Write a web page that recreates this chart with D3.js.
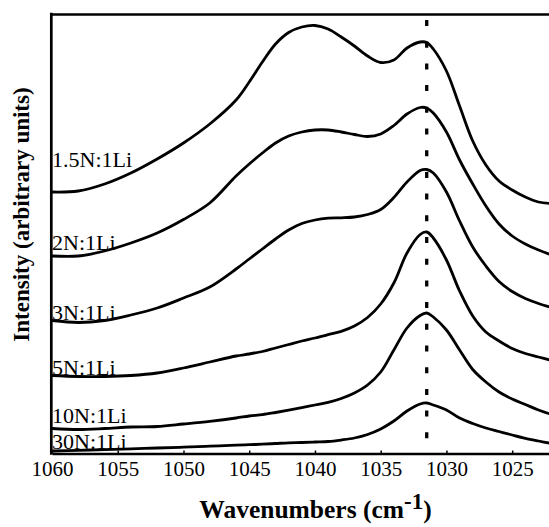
<!DOCTYPE html>
<html>
<head>
<meta charset="utf-8">
<script src="https://cdn.jsdelivr.net/npm/d3@7"></script>
<style>
  body { margin: 0; background: #fff; }
  svg { display: block; }
</style>
</head>
<body>
<svg width="549" height="527"></svg>
<script>
// wavenumber grid (cm-1) shared by all spectra
var wavenumbers = [1060, 1058, 1056, 1054, 1052, 1050, 1048, 1046, 1045, 1044, 1043, 1042, 1041, 1040,
    1039, 1038, 1037, 1036, 1035, 1034, 1033, 1032, 1031.5, 1031, 1030, 1029, 1028, 1027, 1026,
    1025, 1024, 1023, 1022];

// intensities (arbitrary units, already offset as stacked in the figure)
var ratio15 = [26.1, 26.2, 26.9, 28.0, 29.4, 31.0, 32.9, 35.3, 37.1, 39.1, 40.9, 42.05, 42.6, 42.75,
    42.4, 41.6, 40.7, 39.7, 39.05, 39.3, 40.5, 41.1, 41.05, 40.4, 38.2, 34.7, 31.2, 28.8, 27.2,
    26.3, 25.6, 25.1, 24.95];
var ratio2 = [19.7, 19.7, 20.2, 21.0, 22.0, 23.35, 25.0, 27.7, 28.9, 30.0, 31.0, 31.7, 32.1, 32.3,
    32.3, 32.1, 31.85, 31.65, 31.9, 32.75, 33.9, 34.55, 34.5, 34.0, 32.1, 29.3, 26.9, 24.7, 22.9,
    21.7, 20.9, 20.3, 19.8];
var ratio3 = [13.25, 13.05, 13.25, 13.8, 14.5, 15.5, 16.6, 18.4, 19.4, 20.4, 21.4, 22.3, 22.95, 23.3,
    23.48, 23.52, 23.6, 23.85, 24.35, 25.55, 27.1, 28.25, 28.35, 28.0, 26.1, 23.2, 20.6, 18.7, 17.15,
    16.15, 15.45, 14.95, 14.55];
var ratio5 = [7.75, 7.65, 7.65, 7.75, 8.0, 8.5, 9.1, 9.7, 9.9, 10.15, 10.5, 10.85, 11.2, 11.5,
    11.83, 12.17, 12.7, 13.55, 14.9, 17.0, 20.0, 21.85, 22.1, 21.5, 19.3, 16.2, 13.7, 12.1, 11.2,
    10.45, 9.95, 9.6, 9.25];
var ratio10 = [2.45, 2.35, 2.45, 2.6, 2.65, 2.9, 3.17, 3.5, 3.7, 3.84, 4.05, 4.28, 4.53, 4.8,
    5.06, 5.45, 6.0, 6.8, 8.1, 10.3, 12.5, 13.75, 14.0, 13.6, 12.3, 10.3, 8.35, 7.1, 6.1,
    5.4, 4.85, 4.3, 3.85];
var ratio30 = [0.2, 0.27, 0.34, 0.42, 0.5, 0.58, 0.68, 0.78, 0.83, 0.88, 0.95, 1.02, 1.05, 1.1,
    1.15, 1.3, 1.5, 1.85, 2.4, 3.2, 4.2, 4.9, 5.0, 4.8, 4.3, 3.5, 2.95, 2.5, 2.15,
    1.8, 1.47, 1.2, 0.95];

var seriesNames = ['1.5N:1Li', '2N:1Li', '3N:1Li', '5N:1Li', '10N:1Li', '30N:1Li'];
var seriesValues = [ratio15, ratio2, ratio3, ratio5, ratio10, ratio30];
// label baseline intensity, read where each name sits on the left edge
var labelLevels = [28.65, 20.3, 13.3, 7.8, 3.0, 0.4];

var tickValues = [1060, 1055, 1050, 1045, 1040, 1035, 1030, 1025];
var markerWavenumber = 1031.5;

// note: "top" is taken by window.top, so plot edges get their own names
var plotLeft = 52, plotRight = 549, plotTop = 14, plotBottom = 453;
var serif = '"Liberation Serif", "Times New Roman", serif';

var svg = d3.select('svg');

var x = d3.scaleLinear().domain([1060, 1022.2]).range([plotLeft, plotRight]);
var y = d3.scaleLinear().domain([0, 43.9]).range([plotBottom, plotTop]);

svg.append('clipPath').attr('id', 'plot')
    .append('rect')
    .attr('x', plotLeft).attr('y', plotTop)
    .attr('width', plotRight - plotLeft).attr('height', plotBottom - plotTop);

// dashed marker line
svg.append('line')
    .attr('x1', x(markerWavenumber)).attr('x2', x(markerWavenumber))
    .attr('y1', 20).attr('y2', plotBottom)
    .attr('stroke', '#000')
    .attr('stroke-width', 3.3)
    .attr('stroke-dasharray', '6,15.7');

var line = d3.line()
    .x(function(d, i) { return x(wavenumbers[i]); })
    .y(function(d) { return y(d); })
    .curve(d3.curveCatmullRom);

svg.append('g').attr('clip-path', 'url(#plot)')
    .selectAll('path')
    .data(seriesValues)
    .enter()
    .append('path')
    .attr('d', line)
    .attr('fill', 'none')
    .attr('stroke', '#000')
    .attr('stroke-width', 2.8)
    .attr('stroke-linejoin', 'round');

// series names
svg.selectAll('text.name')
    .data(seriesNames)
    .enter()
    .append('text')
    .attr('class', 'name')
    .attr('x', plotLeft)
    .attr('y', function(d, i) { return y(labelLevels[i]); })
    .style('font-family', serif)
    .style('font-size', '22px')
    .text(function(d) { return d; });

// x axis
var xAxis = d3.axisBottom(x)
    .tickValues(tickValues)
    .tickSizeInner(-3)
    .tickSizeOuter(0)
    .tickPadding(8)
    .tickFormat(d3.format('d'));

var gx = svg.append('g')
    .attr('transform', 'translate(0,' + (plotBottom + 0.5) + ')')
    .call(xAxis);
gx.select('.domain').attr('stroke-width', 2.7);
gx.selectAll('.tick line').attr('stroke-width', 1.5);
gx.selectAll('.tick text')
    .style('font-family', serif)
    .style('font-size', '21px')
    .attr('fill', '#000');

// frame: left axis and top border
svg.append('line')
    .attr('x1', plotLeft - 0.7).attr('x2', plotLeft - 0.7)
    .attr('y1', plotTop - 1.3).attr('y2', plotBottom + 1.8)
    .attr('stroke', '#000').attr('stroke-width', 2.7);
svg.append('line')
    .attr('x1', plotLeft - 2).attr('x2', plotRight)
    .attr('y1', plotTop + 0.5).attr('y2', plotTop + 0.5)
    .attr('stroke', '#000').attr('stroke-width', 2.6);

// axis titles
var xt = svg.append('text')
    .attr('x', 315.5).attr('y', 518)
    .attr('text-anchor', 'middle')
    .style('font-family', serif)
    .style('font-weight', 'bold')
    .style('font-size', '25.5px');
xt.append('tspan').text('Wavenumbers (cm');
xt.append('tspan').attr('dy', -9).style('font-size', '23px').text('-1');
xt.append('tspan').attr('dy', 9).text(')');

svg.append('text')
    .attr('transform', 'translate(29,214.5) rotate(-90)')
    .attr('text-anchor', 'middle')
    .style('font-family', serif)
    .style('font-weight', 'bold')
    .style('font-size', '23px')
    .text('Intensity (arbitrary units)');
</script>
</body>
</html>
